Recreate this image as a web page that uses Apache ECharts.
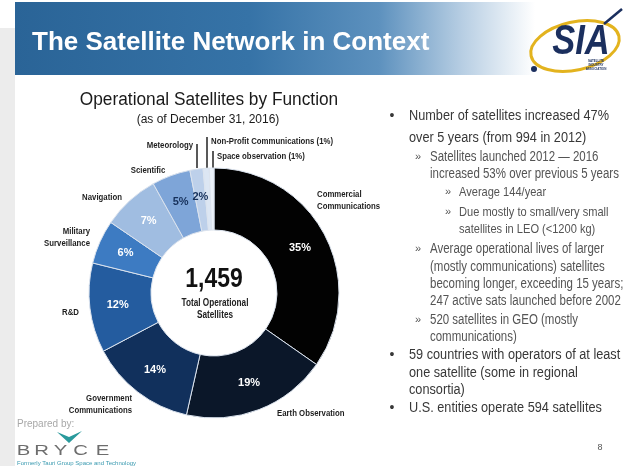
<!DOCTYPE html>
<html>
<head>
<meta charset="utf-8">
<title>The Satellite Network in Context</title>
<script src="https://cdn.jsdelivr.net/npm/echarts@6/dist/echarts.min.js"></script>
<style>
	html, body { margin: 0; padding: 0; background: #ffffff; }
	#main { width: 625px; height: 466px; }
</style>
</head>
<body>
<div id="main"></div>
<script>
var SANS = '"Liberation Sans", Arial, sans-serif';
var NARROW_SCALE = 0.82; // no narrow face installed, so squeeze the sans one

// share of operational satellites by function, percent
var categories = ['Commercial Communications', 'Earth Observation', 'Government Communications', 'R&D',
	'Military Surveillance', 'Navigation', 'Scientific', 'Meteorology', 'Non-Profit Communications', 'Space observation'];
var shares = [34.8, 18.9, 13.8, 11.6, 5.7, 7.4, 5.0, 1.7, 0.8, 0.6];
var totalSatellites = '1,459';

var sliceColors = ['#020202', '#0b1729', '#11305c', '#245c9f', '#3d7bc2', '#a0bde1', '#7ea5d8', '#bdd0ea', '#dce6f3', '#ebf1f9'];
var darkPctLabel = [false, false, false, false, false, false, true, true, false, false];

// name labels round the ring: x, y, align, break into two lines
var namePos = [
	[317, 200, 'left', true],
	[277, 413, 'left', false],
	[132, 404, 'right', true],
	[79, 312, 'right', false],
	[90, 237, 'right', true],
	[102, 197, 'center', false],
	[148, 170, 'center', false],
	[193, 145, 'right', false],
	[211, 141, 'left', false],
	[217, 156, 'left', false]
];
// little leader lines for the thin slices: x, top y
var leaderPos = [null, null, null, null, null, null, null, [197, 144], [207, 137], [213, 151]];

var rightLines = [
	[1, true, 'Number of satellites increased 47%', 116],
	[1, false, 'over 5 years (from 994 in 2012)', 138],
	[2, true, 'Satellites launched 2012 \u2014 2016', 157],
	[2, false, 'increased 53% over previous 5 years', 174],
	[3, true, 'Average 144/year', 192],
	[3, true, 'Due mostly to small/very small', 212],
	[3, false, 'satellites in LEO (<1200 kg)', 229],
	[2, true, 'Average operational lives of larger', 249],
	[2, false, '(mostly communications) satellites', 267],
	[2, false, 'becoming longer, exceeding 15 years;', 284],
	[2, false, '247 active sats launched before 2002', 301],
	[2, true, '520 satellites in GEO (mostly', 320],
	[2, false, 'communications)', 337],
	[1, true, '59 countries with operators of at least', 355],
	[1, false, 'one satellite (some in regional', 373],
	[1, false, 'consortia)', 390],
	[1, true, 'U.S. entities operate 594 satellites', 408]
];

function pct(v) {
	return Math.round(v) + '%';
}

// text element, squeezed horizontally round its anchor point
function txt(x, y, text, font, fill, align, sx, extra) {
	var style = { text: text, fill: fill, font: font + SANS, align: align || 'left', verticalAlign: 'middle' };
	if (extra) {
		for (var p in extra) {
			style[p] = extra[p];
		}
	}
	return { type: 'text', x: x, y: y, scaleX: sx || 1, silent: true, style: style };
}

var pieData = [];
for (var i = 0; i < categories.length; i++) {
	pieData.push({
		name: categories[i],
		value: shares[i],
		itemStyle: { color: sliceColors[i] },
		label: { color: darkPctLabel[i] ? '#16305a' : '#ffffff' }
	});
}

var graphics = [];

// slide furniture
graphics.push({ type: 'rect', shape: { x: 0, y: 28, width: 15, height: 438 }, style: { fill: '#ececec' }, silent: true });
graphics.push({
	type: 'rect', shape: { x: 15, y: 2, width: 520, height: 73 }, silent: true,
	style: {
		fill: new echarts.graphic.LinearGradient(0, 0, 1, 0, [
			{ offset: 0, color: '#2a6497' },
			{ offset: 0.45, color: '#3673a7' },
			{ offset: 0.7, color: '#5d91be' },
			{ offset: 0.86, color: '#b7cee3' },
			{ offset: 1, color: '#ffffff' }
		])
	}
});
graphics.push(txt(32, 43, 'The Satellite Network in Context', 'bold 26px ', '#ffffff', 'left', 1,
	{ shadowColor: 'rgba(0,0,0,0.45)', shadowBlur: 2, shadowOffsetX: 1, shadowOffsetY: 1 }));

// SIA logo
graphics.push({
	type: 'ellipse', shape: { cx: 575, cy: 46, rx: 45, ry: 24 }, rotation: 0.22, originX: 575, originY: 46, silent: true,
	style: { fill: null, stroke: '#e3b31e', lineWidth: 3 }
});
graphics.push({ type: 'line', shape: { x1: 604, y1: 24, x2: 622, y2: 9 }, silent: true, style: { stroke: '#1b2f5e', lineWidth: 2.5 } });
graphics.push({ type: 'circle', shape: { cx: 534, cy: 69, r: 3 }, silent: true, style: { fill: '#1b2f5e' } });
graphics.push(txt(581, 42, 'SIA', 'italic bold 42px ', '#1b2f5e', 'center', NARROW_SCALE));
graphics.push(txt(596, 65, 'SATELLITE\nINDUSTRY\nASSOCIATION', 'bold 3px ', '#1b2f5e', 'center', 1, { lineHeight: 4 }));

// chart title
graphics.push(txt(209, 100, 'Operational Satellites by Function', '18px ', '#1a1a1a', 'center', 0.96));
graphics.push(txt(208, 120, '(as of December 31, 2016)', '12px ', '#1a1a1a', 'center', 1));

// names round the ring
for (var k = 0; k < categories.length; k++) {
	var name = categories[k];
	if (namePos[k][3]) {
		name = name.replace(' ', '\n');
	}
	if (shares[k] < 1.5) {
		name = name + ' (' + pct(shares[k]) + ')';
	}
	graphics.push(txt(namePos[k][0], namePos[k][1], name, 'bold 9.5px ', '#1e1e1e', namePos[k][2], NARROW_SCALE, { lineHeight: 12 }));
	if (leaderPos[k]) {
		graphics.push({
			type: 'line', silent: true,
			shape: { x1: leaderPos[k][0], y1: leaderPos[k][1], x2: leaderPos[k][0], y2: 168 },
			style: { stroke: '#222222', lineWidth: 1.5 }
		});
	}
}

// centre of the ring
graphics.push(txt(214, 279, totalSatellites, 'bold 28px ', '#111111', 'center', NARROW_SCALE));
graphics.push(txt(215, 309, 'Total Operational\nSatellites', 'bold 10px ', '#222222', 'center', NARROW_SCALE, { lineHeight: 12 }));

// bullet text on the right
var levelX = { 1: [392, 409], 2: [418, 430], 3: [448, 459] };
var levelFont = { 1: '15.5px ', 2: '14px ', 3: '13.5px ' };
var levelColor = { 1: '#383838', 2: '#545454', 3: '#545454' };
for (var j = 0; j < rightLines.length; j++) {
	var ln = rightLines[j];
	if (ln[1]) {
		graphics.push(txt(levelX[ln[0]][0], ln[3], ln[0] == 1 ? '\u2022' : '\u00bb', ln[0] == 1 ? '14px ' : '11px ', levelColor[ln[0]], 'center', 1));
	}
	graphics.push(txt(levelX[ln[0]][1], ln[3], ln[2], levelFont[ln[0]], levelColor[ln[0]], 'left', NARROW_SCALE));
}
graphics.push(txt(600, 448, '8', '9px ', '#555555', 'center', 1));

// prepared by / BRYCE
graphics.push(txt(17, 424, 'Prepared by:', '10px ', '#a8a8a8', 'left', 1));
graphics.push({
	type: 'polygon', silent: true,
	shape: { points: [[57, 432], [69, 443], [82, 431], [69, 437]] },
	style: { fill: '#2a9a9c' }
});
var bryceLetters = ['B', 'R', 'Y', 'C', 'E'];
var bryceX = [23.5, 41.5, 60.5, 80.5, 102.5];
for (var b = 0; b < bryceLetters.length; b++) {
	graphics.push(txt(bryceX[b], 451, bryceLetters[b], '14px ', '#6d6d6d', 'center', 1.45));
}
graphics.push(txt(17, 463, 'Formerly Tauri Group Space and Technology', '6px ', '#3a9ab0', 'left', 1));

var myChart = echarts.init(document.getElementById('main'), null, { renderer: 'canvas' });
myChart.setOption({
	animation: false,
	backgroundColor: '#ffffff',
	graphic: { elements: graphics },
	series: [{
		type: 'pie',
		center: [214, 293],
		radius: [63, 125],
		startAngle: 90,
		clockwise: true,
		avoidLabelOverlap: false,
		silent: true,
		itemStyle: { borderColor: '#dbe3ee', borderWidth: 1 },
		label: {
			show: true,
			position: 'inside',
			fontFamily: SANS,
			fontWeight: 'bold',
			fontSize: 11,
			formatter: function(p) {
				return p.value >= 1.5 ? pct(p.value) : '';
			}
		},
		labelLine: { show: false },
		data: pieData
	}]
});
</script>
</body>
</html>
